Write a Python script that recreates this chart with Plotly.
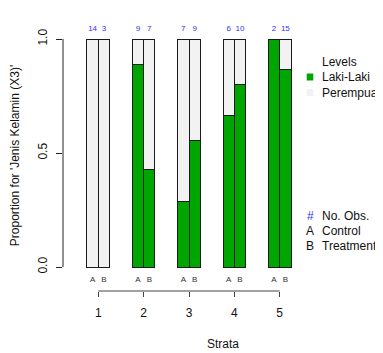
import plotly.graph_objects as go

# ---- data ----
strata = [1, 2, 3, 4, 5]
groups = ["A", "B"]
n_total_A = [14, 9, 7, 6, 2]
n_total_B = [3, 7, 9, 10, 15]
n_laki_A = [0, 8, 2, 4, 2]
n_laki_B = [0, 3, 5, 8, 13]
levels = ["Laki-Laki", "Perempuan"]
level_colors = ["#00a600", "#f2f2f2"]
obs_legend = [("#", "No. Obs."), ("A", "Control"), ("B", "Treatment")]
y_ticks = [0, 0.5, 1.0]
y_ticklabels = ["0.0", "0.5", "1.0"]

FONT = "Liberation Sans, Arial, Helvetica, sans-serif"

# ---- layout geometry (pixels, page has an 8px body margin) ----
OFF = 8
W, H = 383 - OFF, 353 - OFF


def fx(rx):  # reference pixel x -> figure pixel x
    return rx - OFF


def fy(ry):
    return ry - OFF


L, T = fx(63), fy(20)
plot_bottom = fy(291)
B = H - plot_bottom
R = 0
plot_w, plot_h = W - L - R, H - T - B
px_per_y = 228.0
y0_pix = fy(267)
y_lo = -(plot_bottom - y0_pix) / px_per_y
y_hi = 1 + (y0_pix - px_per_y - T) / px_per_y
px_per_x = 45.35
x_lo = 1 - (fx(98.3) - L) / px_per_x
x_hi = x_lo + plot_w / px_per_x

half = 0.125
bw = 0.25
xA = [s - half for s in strata]
xB = [s + half for s in strata]
pA = [m / n for m, n in zip(n_laki_A, n_total_A)]
pB = [m / n for m, n in zip(n_laki_B, n_total_B)]

xs = xA + xB
p_laki = pA + pB
p_per = [1 - p for p in p_laki]

fig = go.Figure()
fig.add_trace(go.Bar(x=xs, y=p_laki, width=bw, name=levels[0],
                     marker=dict(color=level_colors[0], line=dict(color="#1a1a1a", width=1)),
                     showlegend=False))
fig.add_trace(go.Bar(x=xs, y=p_per, width=bw, name=levels[1],
                     marker=dict(color=level_colors[1], line=dict(color="#1a1a1a", width=1)),
                     showlegend=False))

# counts on top
count_y = 1 + 10 / px_per_y
fig.add_trace(go.Scatter(x=xs, y=[count_y] * len(xs), mode="text",
                         text=[str(v) for v in n_total_A + n_total_B],
                         textfont=dict(family=FONT, size=8, color="#3030ff"),
                         showlegend=False, cliponaxis=False, hoverinfo="skip"))
# group letters under bars
ab_y = -(280 - 267) / px_per_y
fig.add_trace(go.Scatter(x=xs, y=[ab_y] * len(xs), mode="text",
                         text=[groups[0]] * len(xA) + [groups[1]] * len(xB),
                         textfont=dict(family=FONT, size=8, color="#333333"),
                         showlegend=False, cliponaxis=False, hoverinfo="skip"))


def px2paper_x(rx):
    return (fx(rx) - L) / plot_w


def px2paper_y(ry):
    return (plot_bottom - fy(ry)) / plot_h


shapes = [
    # y axis line (0..1)
    dict(type="line", xref="paper", yref="y", x0=0, x1=0, y0=0, y1=1,
         line=dict(color="#222222", width=1)),
    # x axis line (1..5)
    dict(type="line", xref="x", yref="paper", x0=strata[0], x1=strata[-1], y0=0, y1=0,
         line=dict(color="#444444", width=1)),
]
annotations = []

# legend: Levels
annotations.append(dict(text="Levels", xref="paper", yref="paper",
                        x=px2paper_x(320), y=px2paper_y(62), xanchor="left", yanchor="middle",
                        showarrow=False, font=dict(family=FONT, size=12, color="#111111")))
for i, (lev, col) in enumerate(zip(levels, level_colors)):
    cy = 77 + 15.5 * i
    shapes.append(dict(type="rect", xref="paper", yref="paper",
                       x0=px2paper_x(306.7), x1=px2paper_x(313.3),
                       y0=px2paper_y(cy - 3.5), y1=px2paper_y(cy + 3.5),
                       fillcolor=col, line=dict(width=0)))
    annotations.append(dict(text=lev, xref="paper", yref="paper",
                            x=px2paper_x(320), y=px2paper_y(cy), xanchor="left", yanchor="middle",
                            showarrow=False, font=dict(family=FONT, size=12, color="#111111")))

# legend: obs
for i, (sym, lab) in enumerate(obs_legend):
    cy = 216 + 15 * i
    annotations.append(dict(text=sym, xref="paper", yref="paper",
                            x=px2paper_x(310), y=px2paper_y(cy), xanchor="center", yanchor="middle",
                            showarrow=False,
                            font=dict(family=FONT, size=12, color="#3030ff" if sym == "#" else "#111111")))
    annotations.append(dict(text=lab, xref="paper", yref="paper",
                            x=px2paper_x(320), y=px2paper_y(cy), xanchor="left", yanchor="middle",
                            showarrow=False, font=dict(family=FONT, size=12, color="#111111")))

fig.update_layout(
    width=W, height=H, barmode="stack",
    margin=dict(l=L, r=R, t=T, b=B, autoexpand=False),
    paper_bgcolor="white", plot_bgcolor="white",
    font=dict(family=FONT, size=12, color="#111111"),
    shapes=shapes, annotations=annotations,
    showlegend=False,
    xaxis=dict(range=[x_lo, x_hi], tickvals=strata, ticktext=[str(s) for s in strata],
               showline=False, showgrid=False, zeroline=False,
               ticks="outside", ticklen=5, tickcolor="#444444", tickwidth=1,
               ticklabelstandoff=6,
               tickfont=dict(family=FONT, size=12, color="#111111"),
               title=dict(text="Strata", standoff=20, font=dict(family=FONT, size=12, color="#111111"))),
    yaxis=dict(range=[y_lo, y_hi], tickvals=y_ticks, ticktext=y_ticklabels,
               showline=False, showgrid=False, zeroline=False,
               ticks="outside", ticklen=6, tickcolor="#222222", tickwidth=1,
               tickangle=-90, ticklabelstandoff=4,
               tickfont=dict(family=FONT, size=12, color="#111111"),
               title=dict(text="Proportion for 'Jenis Kelamin (X3)'", standoff=20,
                          font=dict(family=FONT, size=12, color="#111111"))),
)

fig.write_html("out.html")
